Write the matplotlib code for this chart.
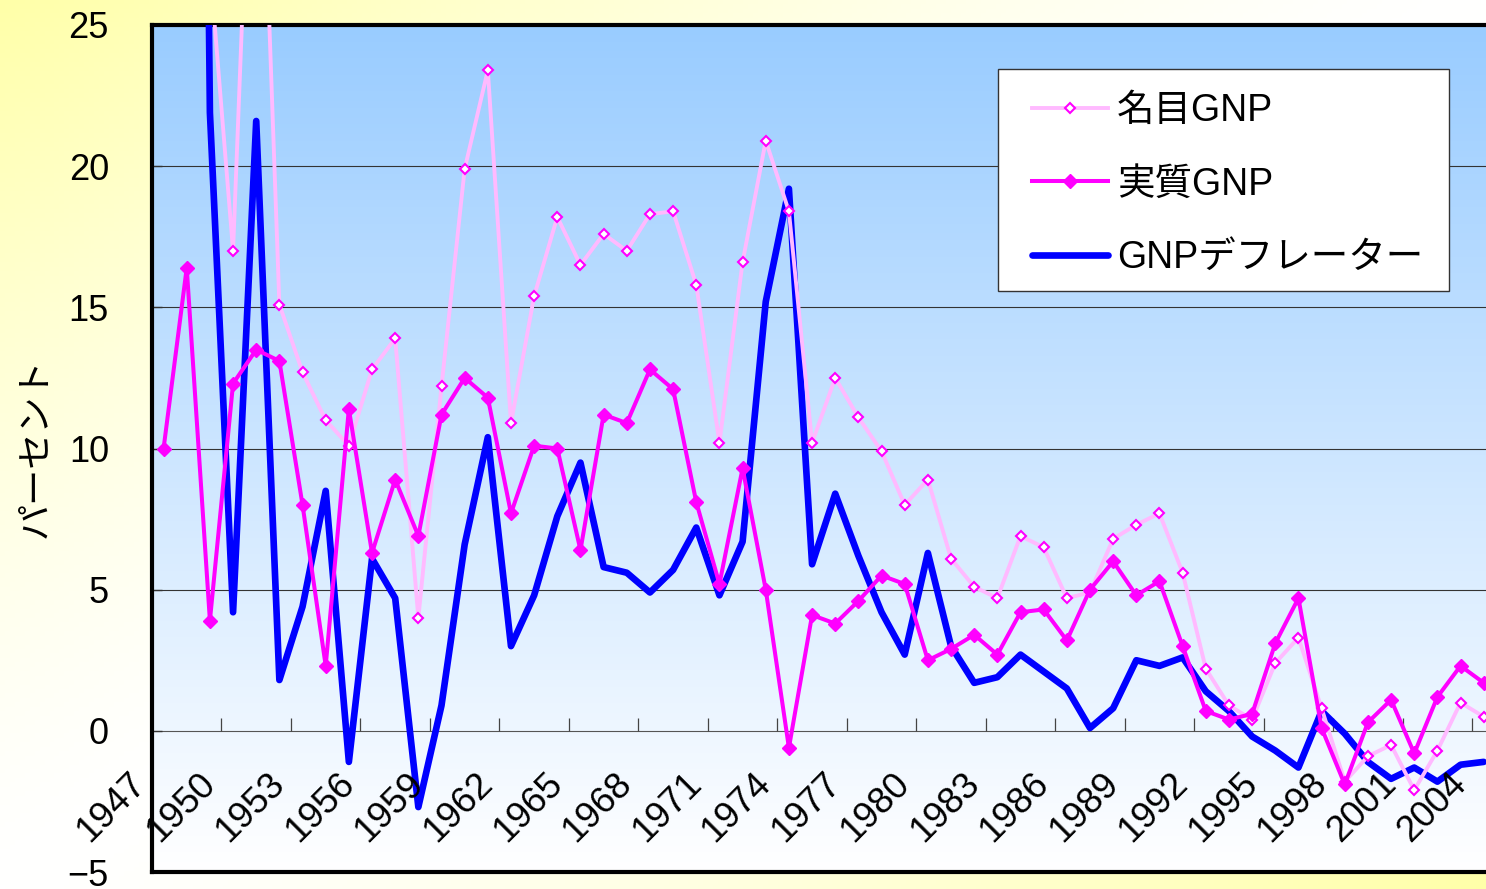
import numpy as np
import matplotlib.pyplot as plt
from matplotlib.colors import LinearSegmentedColormap
from matplotlib.patches import Rectangle

# 日本語フォント
plt.rcParams['font.family'] = ['Liberation Sans', 'Noto Sans CJK JP']

# データ（前年比、%）
years = list(range(1947, 2005))
nominal = [125.0, 110.0, 27.1, 17.0, 38.0, 15.1, 12.7, 11.0, 10.1, 12.8,
           13.9, 4.0, 12.2, 19.9, 23.4, 10.9, 15.4, 18.2, 16.5, 17.6,
           17.0, 18.3, 18.4, 15.8, 10.2, 16.6, 20.9, 18.4, 10.2, 12.5,
           11.1, 9.9, 8.0, 8.9, 6.1, 5.1, 4.7, 6.9, 6.5, 4.7,
           4.9, 6.8, 7.3, 7.7, 5.6, 2.2, 0.9, 0.4, 2.4, 3.3,
           0.8, -1.8, -0.9, -0.5, -2.1, -0.7, 1.0, 0.5]
real = [10.0, 16.4, 3.9, 12.3, 13.5, 13.1, 8.0, 2.3, 11.4, 6.3,
        8.9, 6.9, 11.2, 12.5, 11.8, 7.7, 10.1, 10.0, 6.4, 11.2,
        10.9, 12.8, 12.1, 8.1, 5.2, 9.3, 5.0, -0.6, 4.1, 3.8,
        4.6, 5.5, 5.2, 2.5, 2.9, 3.4, 2.7, 4.2, 4.3, 3.2,
        5.0, 6.0, 4.8, 5.3, 3.0, 0.7, 0.4, 0.6, 3.1, 4.7,
        0.1, -1.9, 0.3, 1.1, -0.8, 1.2, 2.3, 1.7]
deflator = [120.0, 100.0, 21.9, 4.2, 21.6, 1.8, 4.4, 8.5, -1.1, 6.1,
            4.7, -2.7, 0.9, 6.6, 10.4, 3.0, 4.8, 7.6, 9.5, 5.8,
            5.6, 4.9, 5.7, 7.2, 4.8, 6.7, 15.2, 19.2, 5.9, 8.4,
            6.2, 4.2, 2.7, 6.3, 3.0, 1.7, 1.9, 2.7, 2.1, 1.5,
            0.1, 0.8, 2.5, 2.3, 2.6, 1.4, 0.7, -0.2, -0.7, -1.3,
            0.7, -0.1, -1.1, -1.7, -1.3, -1.8, -1.2, -1.1]
series_names = ['名目GNP', '実質GNP', 'GNPデフレーター']
y_ticks = [-5, 0, 5, 10, 15, 20, 25]

W, H = 1486, 889
fig = plt.figure(figsize=(W / 100, H / 100), dpi=100)

# 図全体の背景（左上・右下が黄色）
bg = fig.add_axes([0, 0, 1, 1], zorder=-10)
gx, gy = np.meshgrid(np.linspace(0, 1, 300), np.linspace(0, 1, 200))
t = np.abs(gx + gy - 1.0) ** 1.4
yellow = np.array([1.0, 1.0, 0.66])
img = (1 - t)[..., None] * np.ones(3) + t[..., None] * yellow
bg.imshow(img, aspect='auto', extent=(0, 1, 0, 1))
bg.axis('off')

# プロットエリア（右端は少しはみ出す）
left, right, top, bottom = 152, 1495.3, 25, 872
ax = fig.add_axes([left / W, 1 - bottom / H, (right - left) / W, (bottom - top) / H])
n = len(years)
ax.imshow(np.linspace(0, 1, 256).reshape(-1, 1), extent=(-0.5, n - 0.5, -5, 25),
          aspect='auto', origin='upper', zorder=0,
          cmap=LinearSegmentedColormap.from_list('pa', ['#99CCFF', '#FFFFFF']))

# 目盛線
for yv in y_ticks[2:-1]:
    ax.axhline(yv, color='#333333', lw=0.8, zorder=1)
ax.axhline(0, color='#555555', lw=0.8, zorder=1)
ax.vlines(np.arange(2.5, n - 1, 3), 0, 0.46, color='#444444', lw=0.9, zorder=1)

x = np.arange(n)
l3, = ax.plot(x, deflator, color='#0000FF', lw=4.8, zorder=3,
              solid_joinstyle='round', solid_capstyle='round')
l1, = ax.plot(x, nominal, color='#FFBAFF', lw=2.8, marker='D', ms=5,
              mfc='white', mec='#FF00FF', mew=1.5, zorder=4)
l2, = ax.plot(x, real, color='#FF00FF', lw=2.9, marker='D', ms=7.5,
              mfc='#FF00FF', mec='#FF00FF', zorder=5)

ax.set_xlim(-0.5, n - 0.5)
ax.set_ylim(-5, 25)
ax.set_xticks([])
ax.set_yticks(y_ticks)
ax.tick_params(axis='y', direction='in', length=7, width=1, color='#333333',
               pad=31, labelsize=26)
for s in ax.spines.values():
    s.set_linewidth(3)
    s.set_color('black')

# 年ラベル（45度）
for i in range(0, n, 3):
    ax.text(i - 1.0, -1.7, str(years[i]), rotation=45, ha='right', va='center',
            rotation_mode='anchor', fontsize=26.5, zorder=6)

fig.text(36 / W, 1 - 448 / H, 'パーセント', rotation=90, ha='center',
         va='center', fontsize=26)

# 凡例（枠は別に描く）
ax.add_patch(Rectangle((998 / W, 1 - 291 / H), 451 / W, 222 / H,
                       transform=fig.transFigure, facecolor='white',
                       edgecolor='#333333', lw=1.0, clip_on=False, zorder=9))
leg = ax.legend([l1, l2, l3], series_names, loc='upper left',
                bbox_to_anchor=(1032 / W, 1 - 93 / H), bbox_transform=fig.transFigure,
                fontsize=27, frameon=False, borderpad=0, labelspacing=1.0,
                handlelength=2.03, handletextpad=0.24, borderaxespad=0,
                numpoints=1)
leg.set_zorder(10)

fig.savefig('out.png', dpi=100)
